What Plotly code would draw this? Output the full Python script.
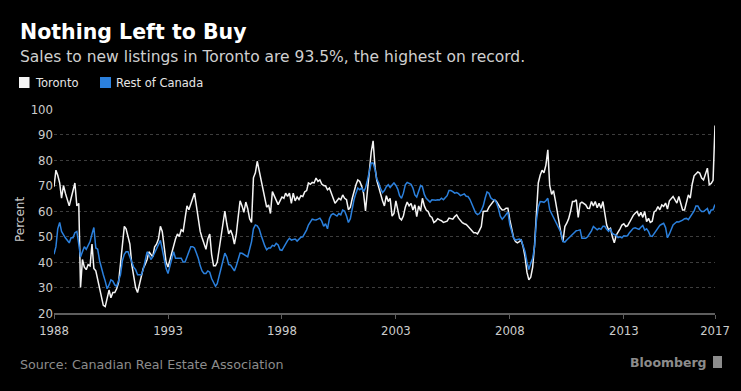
import pandas as pd
import plotly.graph_objects as go

# ---------------- data (monthly, Jan 1988 - Jan 2017) ----------------
toronto = [
    69.5, 76, 74, 71, 65, 70, 67, 64, 62, 65, 68, 71,            # 1988
    62, 63, 30, 41, 38, 37, 39, 38.5, 47, 37.5, 36.5, 33,        # 1989
    29, 25, 23, 22.5, 26, 29, 26, 28, 28, 29.5, 32, 40,          # 1990
    48, 54, 53, 50, 47, 39, 35, 30, 28, 31, 34, 37.5,            # 1991
    39, 41, 44, 43, 42, 46, 47, 49, 54, 52, 45, 40,              # 1992
    38, 41, 43, 46, 49, 51, 50, 52.6, 52, 57, 62, 60.5,          # 1993
    63, 64.5, 67, 62, 56, 52, 49.5, 47, 45, 49, 51, 43,          # 1994
    38.5, 38.5, 40, 45, 50, 54, 60, 55, 51, 52.5, 50.5, 47,      # 1995
    51, 58, 64, 62, 59.5, 63.5, 61, 57, 55.5, 73, 75, 79.5,      # 1996
    76, 72.5, 69, 65, 61.5, 62.4, 59, 67.6, 66, 64.5, 62.5, 64,  # 1997
    65.5, 65, 67, 65.7, 67, 63, 67, 64, 65.5, 64.5, 66, 65.7,    # 1998
    67.5, 68, 71, 70.5, 71.2, 71, 72.9, 71.6, 72.2, 70.6, 70, 69.8,  # 1999
    68.3, 69, 67, 64.4, 63, 64, 65, 64.4, 66.3, 65, 64.4, 60.5,  # 2000
    61.5, 65, 68, 70.3, 72.2, 71.6, 69.8, 67, 60, 68, 78, 83,    # 2001
    87.5, 77, 72, 69, 66.5, 64, 62, 66, 63.7, 65, 58, 59,        # 2002
    64, 60, 57.2, 56.5, 58, 61.5, 63.5, 62, 63, 60.4, 62.4, 57.8,  # 2003
    62, 60, 65, 62, 60.4, 59.8, 58, 57.5, 55.5, 56, 57, 56.5,    # 2004
    56.2, 55.5, 55.8, 56, 57.2, 57, 56.8, 57.8, 58.5, 57.2, 56.2, 55.4,  # 2005
    55, 54.7, 54, 53.2, 52.4, 51.5, 51.5, 51, 52.4, 53.9, 59.8, 60,      # 2006
    60, 61.5, 62.4, 63.7, 64.4, 63.7, 62.4, 61.3, 60.4, 60.5, 61.1, 61.1,  # 2007
    56.5, 52.6, 49.5, 48, 47.5, 48, 48.6, 46, 42, 36, 33, 34,    # 2008
    38, 47, 57, 71, 74, 76, 75, 78, 84, 70, 66.5, 68,            # 2009
    64, 59.5, 55, 51, 48, 53.9, 55.2, 57, 60, 63.7, 63.7, 64.4,  # 2010
    57.5, 63, 63.5, 63, 62.4, 61.1, 61, 63.7, 62, 63.7, 61.3, 63,  # 2011
    61.1, 63.7, 60, 54.5, 52.6, 53.2, 49.9, 47.5, 50.5, 51.5, 53, 54.5,  # 2012
    55, 53.9, 54.2, 55.5, 57, 58.3, 59.1, 59.8, 58, 59.5, 57.5, 59.8,    # 2013
    55.8, 57.1, 55.5, 56, 59.6, 60.2, 61.7, 60.5, 62.4, 61.8, 63.1, 60.8,  # 2014
    64, 65, 65.7, 64.4, 63.1, 65.7, 63, 60.4, 60.4, 64, 66.3, 65,        # 2015
    70.5, 73.8, 74.5, 75.3, 74.9, 72.9, 72.2, 74.5, 76.8, 70.3, 70.8, 72,  # 2016
    93.5,                                                          # 2017
]

rest_of_canada = [
    43, 46, 53, 55.5, 52, 50.5, 49.5, 48.5, 47.5, 49.5, 49.5, 51.5,  # 1988
    52, 47, 42, 44, 46, 45, 46.5, 48, 51, 53.5, 45.5, 45,          # 1989
    40.5, 37, 35, 32.5, 29.5, 31, 33, 32.5, 31, 30.5, 32.5, 35,    # 1990
    40.5, 43, 44, 44, 42, 40, 38, 37, 35, 35, 35, 37,              # 1991
    41, 44, 43, 41, 42, 43.5, 45, 47, 48.5, 45, 41, 37.5,          # 1992
    35.5, 38.5, 41, 44, 41.5, 41.5, 41.5, 41.5, 40, 40, 42, 44,    # 1993
    46, 46, 45.5, 43.5, 41.5, 38.5, 36.5, 35.5, 35.5, 36.5, 36, 33.5,  # 1994
    32, 30.5, 31.5, 34.5, 38, 40.5, 43.5, 42, 39, 38.8, 37.8, 36.5,    # 1995
    38.5, 41.4, 43.5, 43.4, 43, 42.5, 42, 45, 48, 53, 54.5, 54.2,      # 1996
    53, 50.5, 48, 46.3, 44.8, 45.5, 45.5, 46.5, 46.2, 47.3, 46.7, 44.8,  # 1997
    44.6, 46, 47, 48.4, 49.3, 48.6, 48.8, 49, 48.2, 49, 49.7, 49.9,    # 1998
    51.2, 52.6, 54.5, 56, 56.8, 56.6, 56.5, 56.8, 57.2, 56, 54, 55,    # 1999
    53, 57, 58.5, 59, 58.5, 58, 59, 58.5, 60.4, 60, 58, 55.5,          # 2000
    57, 61.5, 64.5, 67, 69, 68.3, 69, 67.6, 69, 72, 76, 78.8,          # 2001
    78.8, 76.2, 72.5, 71, 68.8, 67.2, 68, 69.5, 70.3, 69.2, 70.2, 71,  # 2002
    70, 68.5, 66, 65, 67, 70.3, 71.2, 70.8, 70.5, 69, 66.3, 65.5,      # 2003
    68.3, 70, 69.5, 66.5, 65, 64.4, 63.5, 64.4, 64.2, 64.2, 64.4, 64.3,  # 2004
    65, 64.4, 65.2, 66, 68, 68, 67.6, 67, 67.2, 66.8, 66, 66.5,        # 2005
    66.7, 65.8, 65.7, 64.6, 63, 61.5, 59.3, 58.6, 59, 60.2, 62, 65,    # 2006
    67.5, 67, 65.2, 64.5, 64.4, 63.2, 61.1, 58, 56.8, 57.6, 58.5, 59.6,  # 2007
    54.6, 52, 49.5, 48.6, 48.8, 49, 48.6, 46.5, 44, 40, 37, 39.5,      # 2008
    41.5, 46, 56, 61.5, 63.7, 63.6, 63.4, 64, 65, 60.5, 59, 57.5,      # 2009
    56, 54.5, 53, 51.5, 48, 47.8, 48.6, 49.3, 50, 50.6, 51.5, 52.3,    # 2010
    52.4, 52.6, 49.3, 49.3, 49.3, 49.9, 51, 52.2, 53.9, 53.2, 52.6, 53.2,  # 2011
    52.8, 54, 54, 52.8, 52, 53, 51.2, 50.8, 50.5, 49.6, 49.9, 49.5,    # 2012
    50.3, 50.2, 50.3, 51.5, 52.4, 53.2, 53.4, 53.2, 52.8, 53.6, 54.3, 52.5,  # 2013
    53, 51.9, 50.2, 50, 51.2, 52.3, 53.6, 54.4, 54.8, 55.2, 53.5, 49.5,      # 2014
    51, 53, 54.5, 55.2, 55.8, 55.7, 55.9, 56.4, 57, 57.1, 56.6, 57.8,        # 2015
    58.7, 60, 62, 62, 60.6, 59.8, 59.8, 60.4, 61, 58.8, 60.4, 60.5,          # 2016
    62.5,                                                                      # 2017
]

tick_years = [1988, 1993, 1998, 2003, 2008, 2013, 2017]
tick_labels = ["1988", "1993", "1998", "2003", "2008", "2013", "2017"]
y_ticks = [20, 30, 40, 50, 60, 70, 80, 90, 100]

series_names = ["Toronto", "Rest of Canada"]
series_colors = ["#f4f4f4", "#2b80dd"]

title_text = "Nothing Left to Buy"
subtitle_text = "Sales to new listings in Toronto are 93.5%, the highest on record."
source_text = "Source: Canadian Real Estate Association"

# ---------------- layout geometry ----------------
W, H = 741, 391
ML, MR, MT, MB = 54, 26, 109, 78
PW, PH = W - ML - MR, H - MT - MB


def px_x(px):
    return (px - ML) / PW


def px_y(py):
    return (H - MB - py) / PH


FONT = "DejaVu Sans, Verdana, sans-serif"
TICKFONT = "Liberation Sans Narrow, DejaVu Sans Condensed, Liberation Sans, Arial, sans-serif"

dates_t = pd.date_range("1988-01-01", periods=len(toronto), freq="MS")
dates_r = pd.date_range("1988-01-01", periods=len(rest_of_canada), freq="MS")

fig = go.Figure()
fig.add_trace(go.Scatter(x=dates_t, y=toronto, mode="lines", name=series_names[0],
                         line=dict(color=series_colors[0], width=1.5), showlegend=False,
                         hoverinfo="skip"))
fig.add_trace(go.Scatter(x=dates_r, y=rest_of_canada, mode="lines", name=series_names[1],
                         line=dict(color=series_colors[1], width=1.5), showlegend=False,
                         hoverinfo="skip"))

annotations = [
    dict(text="<b>" + title_text + "</b>", x=px_x(18), y=px_y(32), xanchor="left", yanchor="middle",
         font=dict(family=FONT, size=20.5, color="#ffffff")),
    dict(text=subtitle_text, x=px_x(18), y=px_y(56.5), xanchor="left", yanchor="middle",
         font=dict(family=FONT, size=15.5, color="#cfcfcf")),
    dict(text=series_names[0], x=px_x(33), y=px_y(82.5), xanchor="left", yanchor="middle",
         font=dict(family=FONT, size=11.5, color="#e6e6e6")),
    dict(text=series_names[1], x=px_x(114), y=px_y(82.5), xanchor="left", yanchor="middle",
         font=dict(family=FONT, size=11.5, color="#e6e6e6")),
    dict(text="Percent", x=px_x(20), y=px_y(220), xanchor="center", yanchor="middle", textangle=-90,
         font=dict(family=FONT, size=12, color="#c8c8c8")),
    dict(text=source_text, x=px_x(18), y=px_y(364), xanchor="left", yanchor="middle",
         font=dict(family=FONT, size=12.7, color="#8c8c8c")),
    dict(text="<b>Bloomberg</b>", x=px_x(709), y=px_y(362), xanchor="right", yanchor="middle",
         font=dict(family=FONT, size=12.5, color="#8c8c8c")),
]
for a in annotations:
    a.update(xref="paper", yref="paper", showarrow=False)

shapes = [
    dict(type="rect", xref="paper", yref="paper", x0=px_x(19), x1=px_x(29.5), y0=px_y(88), y1=px_y(77),
         fillcolor=series_colors[0], line=dict(width=0)),
    dict(type="rect", xref="paper", yref="paper", x0=px_x(100), x1=px_x(111), y0=px_y(88), y1=px_y(77),
         fillcolor=series_colors[1], line=dict(width=0)),
    dict(type="rect", xref="paper", yref="paper", x0=px_x(713), x1=px_x(722), y0=px_y(368), y1=px_y(356),
         fillcolor="#8c8c8c", line=dict(width=0)),
]

fig.update_layout(
    width=W, height=H,
    margin=dict(l=ML, r=MR, t=MT, b=MB, pad=0),
    paper_bgcolor="#000000", plot_bgcolor="#000000",
    showlegend=False,
    annotations=annotations,
    shapes=shapes,
    font=dict(family=FONT, color="#c8c8c8"),
)

fig.update_xaxes(
    type="date",
    range=["1988-01-01", "2017-01-01"],
    tickmode="array",
    tickvals=[f"{y}-01-01" for y in tick_years],
    ticktext=tick_labels,
    showgrid=False, zeroline=False,
    showline=True, linecolor="#5e5e5e", linewidth=2,
    ticks="outside", ticklen=4, tickwidth=1, tickcolor="#5e5e5e",
    tickfont=dict(family=TICKFONT, size=13, color="#cccccc"),
)
fig.update_yaxes(
    range=[20, 100],
    tickmode="array", tickvals=y_ticks, ticktext=[str(v) for v in y_ticks],
    showgrid=True, gridcolor="#3d3d3d", gridwidth=1, griddash="dot",
    zeroline=False, showline=False, ticks="",
    tickfont=dict(family=TICKFONT, size=13, color="#cccccc"),
)

fig.write_html(
    "out.html",
    config={"displayModeBar": False, "staticPlot": True},
    post_script="document.body.style.margin='0';document.body.style.background='#000';"
                "document.documentElement.style.overflow='hidden';",
)
